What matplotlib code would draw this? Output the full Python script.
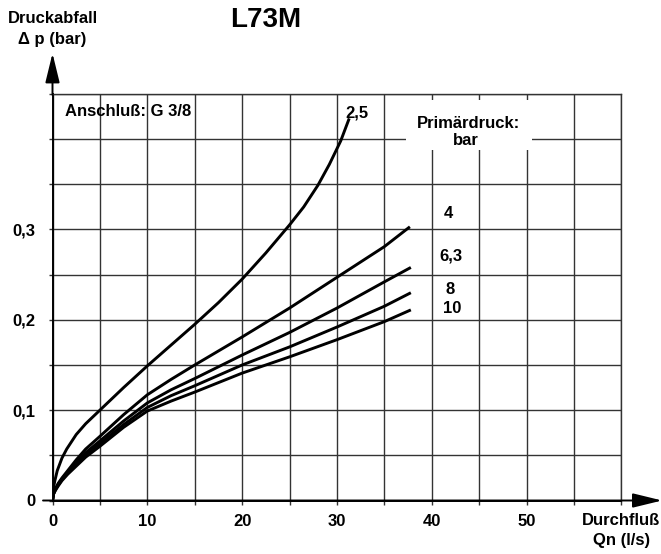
import numpy as np
import matplotlib.pyplot as plt
from matplotlib.patches import Rectangle

plt.rcParams['font.family'] = ['Liberation Sans', 'DejaVu Sans']
plt.rcParams['font.weight'] = 'bold'
fontsize = 12

# Primärdruck 2,5 / 4 / 6,3 / 8 / 10 bar
q_25 = [0, 0.1, 0.25, 0.5, 1, 1.5, 2.5, 3.5, 5, 7.5, 10, 12.5, 15, 17.5, 20, 22.5, 25, 26.5, 28, 29.2, 30.4, 31.3]
dp_25 = [0, 0.014, 0.022, 0.033, 0.047, 0.057, 0.073, 0.085, 0.1, 0.125, 0.149, 0.172, 0.195, 0.219, 0.245,
         0.274, 0.305, 0.325, 0.349, 0.372, 0.398, 0.423]

q_4 = [0, 0.1, 0.3, 0.6, 1, 1.6, 2.5, 3.5, 5, 7.5, 10, 12.5, 15, 20, 25, 30, 35, 37.7]
dp_4 = [0, 0.008, 0.013, 0.019, 0.025, 0.033, 0.045, 0.057, 0.071, 0.095, 0.117, 0.134, 0.150, 0.181,
        0.213, 0.247, 0.281, 0.303]

q_63 = [0, 0.1, 0.3, 0.6, 1, 1.6, 2.5, 3.5, 5, 7.5, 10, 12.5, 15, 20, 25, 30, 35, 37.8]
dp_63 = [0, 0.007, 0.012, 0.018, 0.024, 0.031, 0.042, 0.053, 0.066, 0.088, 0.108, 0.1225, 0.135, 0.161,
         0.186, 0.213, 0.242, 0.258]

q_8 = [0, 0.1, 0.3, 0.6, 1, 1.6, 2.5, 3.5, 5, 7.5, 10, 12.5, 15, 20, 25, 30, 35, 37.8]
dp_8 = [0, 0.007, 0.012, 0.017, 0.023, 0.030, 0.040, 0.051, 0.063, 0.084, 0.103, 0.116, 0.127, 0.150,
        0.170, 0.192, 0.215, 0.23]

q_10 = [0, 0.1, 0.3, 0.6, 1, 1.6, 2.5, 3.5, 5, 7.5, 10, 12.5, 15, 20, 25, 30, 35, 37.8]
dp_10 = [0, 0.007, 0.011, 0.016, 0.022, 0.029, 0.038, 0.048, 0.060, 0.081, 0.099, 0.110, 0.120, 0.141,
         0.159, 0.178, 0.198, 0.211]

curve_labels = ["2,5", "4", "6,3", "8", "10"]
label_pos = [(32.1, 0.429), (41.8, 0.318), (42.0, 0.271), (41.9, 0.234), (42.2, 0.212)]

xticks = np.arange(0, 61, 5)
xticklabels = ["0", "", "10", "", "20", "", "30", "", "40", "", "50", "", ""]
yticks = np.arange(0, 0.451, 0.05)
yticklabels = ["0", "", "0,1", "", "0,2", "", "0,3", "", "", ""]

fig = plt.figure(figsize=(6.61, 5.54), dpi=100)
ax = fig.add_axes([52.5 / 661, 53.5 / 554, 568.8 / 661, 406.5 / 554])
ax.set_xlim(0, 60)
ax.set_ylim(0, 0.45)

ax.set_xticks(xticks)
ax.set_xticklabels(xticklabels, fontsize=fontsize, fontweight='bold')
ax.set_yticks(yticks)
ax.set_yticklabels(yticklabels, fontsize=fontsize, fontweight='bold')
ax.tick_params(axis='both', direction='out', length=3, width=1.0, color='#333333')
ax.tick_params(axis='x', pad=6.5)
ax.tick_params(axis='y', pad=9)
ax.set_axisbelow(True)
ax.grid(True, color='#333333', linewidth=1.0)

for side in ['top', 'right']:
    ax.spines[side].set_color('#333333')
    ax.spines[side].set_linewidth(1.0)
for side in ['left', 'bottom']:
    ax.spines[side].set_color('black')
    ax.spines[side].set_linewidth(1.4)

# white box behind "Primärdruck: bar"
ax.add_patch(Rectangle((37.3, 0.388), 13.25, 0.0555, facecolor='white', edgecolor='none', zorder=1))

for q, dp in [(q_25, dp_25), (q_4, dp_4), (q_63, dp_63), (q_8, dp_8), (q_10, dp_10)]:
    ax.plot(q, dp, color='black', linewidth=2.1, solid_joinstyle='round', solid_capstyle='butt', zorder=3)

for lab, (lx, ly) in zip(curve_labels, label_pos):
    ax.text(lx, ly, lab, ha='center', va='center', fontsize=fontsize, fontweight='bold')

ax.text(43.9, 0.4177, "Primärdruck:", ha='center', va='center', fontsize=fontsize, fontweight='bold', zorder=4)
ax.text(43.6, 0.399, "bar", ha='center', va='center', fontsize=fontsize, fontweight='bold', zorder=4)
ax.text(1.32, 0.4305, "Anschluß: G 3/8", ha='left', va='center', fontsize=fontsize, fontweight='bold')

# axes arrows
arrow = dict(arrowstyle='-|>,head_length=0.9,head_width=0.22', color='black', lw=1.4,
             shrinkA=0, shrinkB=0, mutation_scale=20)
ax.annotate('', xy=(0, 0.495), xytext=(0, 0.449), arrowprops=arrow, annotation_clip=False)
ax.annotate('', xy=(64.3, 0), xytext=(-1.0, 0), arrowprops=arrow, annotation_clip=False)

ax.text(0, 0.534, "Druckabfall", ha='center', va='center', fontsize=fontsize, fontweight='bold', clip_on=False)
ax.text(0, 0.510, "Δ p (bar)", ha='center', va='center', fontsize=fontsize, fontweight='bold', clip_on=False)
ax.text(60, -0.022, "Durchfluß", ha='center', va='center', fontsize=fontsize, fontweight='bold', clip_on=False)
ax.text(60, -0.0445, "Qn (l/s)", ha='center', va='center', fontsize=fontsize, fontweight='bold', clip_on=False)
ax.text(22.5, 0.532, "L73M", ha='center', va='center', fontsize=20, fontweight='bold', clip_on=False)

fig.savefig("out.png", dpi=100)
